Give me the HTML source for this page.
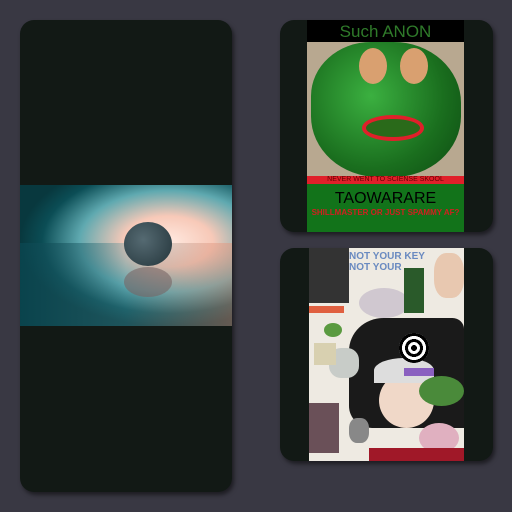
<!DOCTYPE html>
<html><head><meta charset="utf-8"><style>
body{margin:0;width:512px;height:512px;background:#393843;position:relative;overflow:hidden;font-family:"Liberation Sans",sans-serif}
.card{position:absolute;background:#121915;border-radius:14px;box-shadow:2px 3px 4px rgba(0,0,0,.5);overflow:hidden}
.abs{position:absolute}
</style></head><body>
<div class="card" style="left:20px;top:20px;width:212px;height:472px">
 <div class="abs" style="left:0;top:165px;width:212px;height:141px;background:radial-gradient(ellipse 70% 60% at 70% 40%,#ffe9e0 0%,#f7c9b8 30%,#5fa9b0 60%,#0b4d55 85%,#08383e 100%)">
  <div class="abs" style="left:0;top:58px;width:212px;height:83px;background:linear-gradient(90deg,rgba(10,70,80,.8),rgba(80,150,160,.3) 50%,rgba(240,140,110,.4));"></div>
  <div class="abs" style="left:104px;top:37px;width:48px;height:44px;border-radius:50%;background:radial-gradient(circle at 40% 40%,#556a72,#23343a)"></div>
  <div class="abs" style="left:104px;top:82px;width:48px;height:30px;border-radius:50%;background:rgba(120,100,100,.6)"></div>
 </div>
</div>
<div class="card" style="left:280px;top:20px;width:213px;height:212px">
 <div class="abs" style="left:27px;top:0;width:157px;height:212px;background:#b8a890">
  <div class="abs" style="left:0;top:0;width:157px;height:22px;background:#000;color:#2f7a2a;font-size:17px;text-align:center;line-height:24px">Such ANON</div>
  <div class="abs" style="left:4px;top:22px;width:150px;height:135px;border-radius:40% 45% 45% 45%;background:radial-gradient(circle at 40% 40%,#3bb040,#1a6e1e 60%,#0d4a12)"></div>
  <div class="abs" style="left:55px;top:95px;width:62px;height:26px;border-radius:50%;border:4px solid #e0202a;box-sizing:border-box;background:#2a6a1a"></div>
  <div class="abs" style="left:52px;top:28px;width:28px;height:36px;border-radius:50%;background:#d9a070"></div>
  <div class="abs" style="left:93px;top:28px;width:28px;height:36px;border-radius:50%;background:#d9a070"></div>
  <div class="abs" style="left:0;top:156px;width:157px;height:8px;background:#e0202a;color:#600;font-size:7px;line-height:8px;text-align:center">NEVER WENT TO SCIENSE SKOOL</div>
  <div class="abs" style="left:0;top:164px;width:157px;height:48px;background:#12731a;text-align:center">
   <div style="font-size:16px;color:#000;margin-top:6px">TAOWARARE</div>
   <div style="font-size:8px;color:#d02020;font-weight:bold">SHILLMASTER OR JUST SPAMMY AF?</div>
  </div>
 </div>
</div>
<div class="card" style="left:280px;top:248px;width:213px;height:213px">
 <div class="abs" style="left:29px;top:0;width:155px;height:213px;background:#eeeae2;overflow:hidden">
  <div class="abs" style="left:0;top:0;width:40px;height:55px;background:#333"></div>
  <div class="abs" style="left:40px;top:3px;color:#6a8ac0;font-size:10px;font-weight:bold;line-height:11px">NOT YOUR KEY<br>NOT YOUR</div>
  <div class="abs" style="left:0;top:58px;width:35px;height:7px;background:#e06040"></div>
  <div class="abs" style="left:40px;top:70px;width:115px;height:110px;background:#1a1a1a;border-radius:30% 10% 0 20%"></div>
  <div class="abs" style="left:50px;top:40px;width:50px;height:30px;background:#d0c8d0;border-radius:50%"></div>
  <div class="abs" style="left:95px;top:20px;width:20px;height:45px;background:#2a5a2a"></div>
  <div class="abs" style="left:125px;top:5px;width:30px;height:45px;background:#e8c8b0;border-radius:40%"></div>
  <div class="abs" style="left:70px;top:125px;width:55px;height:55px;background:#f0d8c8;border-radius:50%"></div>
  <div class="abs" style="left:65px;top:110px;width:60px;height:25px;background:#ddd;border-radius:50% 50% 0 0"></div>
  <div class="abs" style="left:90px;top:85px;width:30px;height:30px;border-radius:50%;background:repeating-radial-gradient(circle,#000 0 3px,#fff 3px 6px)"></div>
  <div class="abs" style="left:20px;top:100px;width:30px;height:30px;background:#c8ccc8;border-radius:40%"></div>
  <div class="abs" style="left:110px;top:128px;width:45px;height:30px;background:#4a8a3a;border-radius:50%"></div>
  <div class="abs" style="left:0;top:155px;width:30px;height:50px;background:#6a5058"></div>
  <div class="abs" style="left:110px;top:175px;width:40px;height:30px;background:#e0b0c0;border-radius:50%"></div>
  <div class="abs" style="left:95px;top:120px;width:30px;height:8px;background:#8a60c0"></div>
  <div class="abs" style="left:15px;top:75px;width:18px;height:14px;background:#5a9a40;border-radius:50%"></div>
  <div class="abs" style="left:5px;top:95px;width:22px;height:22px;background:#d8d0b0"></div>
  <div class="abs" style="left:40px;top:170px;width:20px;height:25px;background:#888;border-radius:40%"></div>
  <div class="abs" style="left:60px;top:200px;width:95px;height:13px;background:#a01828"></div>
 </div>
</div>
</body></html>
